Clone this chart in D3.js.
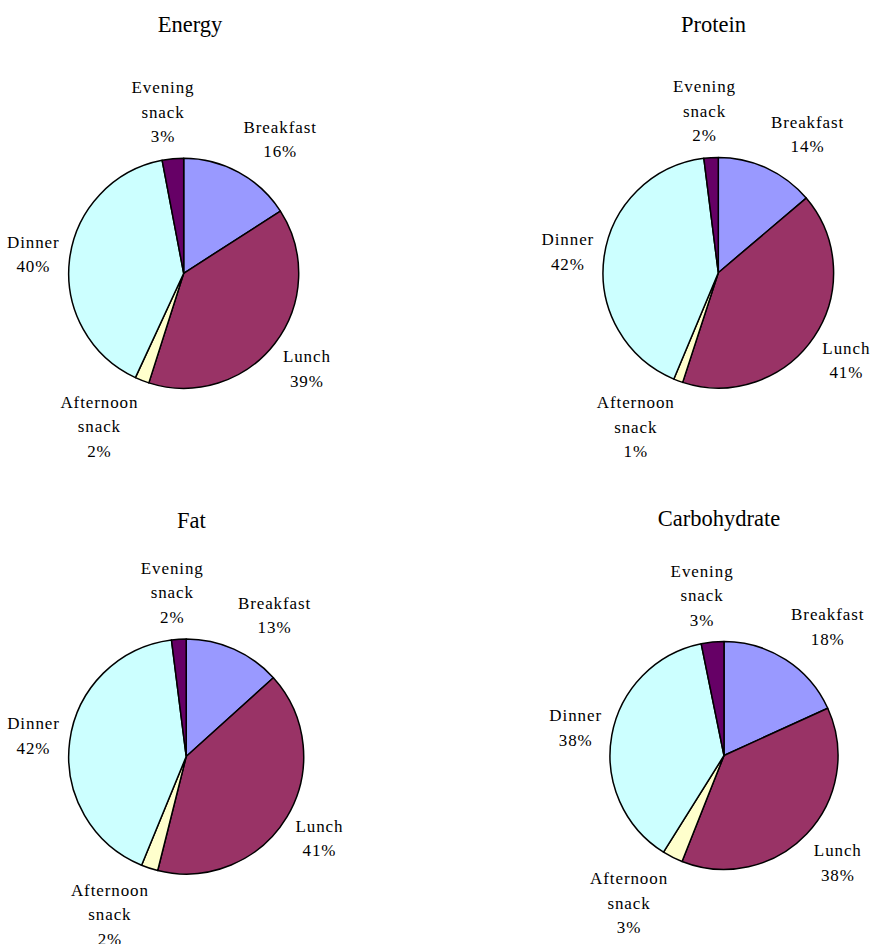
<!DOCTYPE html>
<html>
<head>
<meta charset="utf-8">
<script src="https://cdn.jsdelivr.net/npm/d3@7/dist/d3.min.js"></script>
<style>
  html, body { margin: 0; padding: 0; background: #fff; }
  svg { display: block; }
  text { font-family: "Liberation Serif", "Times New Roman", "DejaVu Serif", serif; fill: #000; }
</style>
</head>
<body>
<svg id="chart" width="870" height="944"></svg>
<script>
// ---- data ----
const categories = ["Breakfast", "Lunch", "Afternoon snack", "Dinner", "Evening snack"];
const categoryLines = [["Breakfast"], ["Lunch"], ["Afternoon", "snack"], ["Dinner"], ["Evening", "snack"]];
const panelTitles = ["Energy", "Protein", "Fat", "Carbohydrate"];
const energyValues  = [15.9, 39.0, 2.0, 40.1, 3.0];
const proteinValues = [13.8, 41.2, 1.3, 41.7, 2.0];
const fatValues     = [13.3, 40.6, 2.3, 41.8, 2.0];
const carbValues    = [18.2, 37.8, 2.9, 37.9, 3.2];
const seriesValues  = [energyValues, proteinValues, fatValues, carbValues];

// ---- style / layout ----
const colors = ["#9999FF", "#993366", "#FFFFCC", "#CCFFFF", "#660066"];
const layout = [
  { cx: 183.7, cy: 273.3, r: 115,   tx: 190,   ty: 31.7 },
  { cx: 718.3, cy: 272.7, r: 115.3, tx: 713.5, ty: 31.7 },
  { cx: 186.2, cy: 756.5, r: 117.5, tx: 191.5, ty: 528.3 },
  { cx: 724,   cy: 755.5, r: 114,   tx: 719,   ty: 526 }
];
const labelFont = 17, lineH = 24.5, firstBase = 18, gap = 10, kx = 3, ky = 1.3;

const svg = d3.select("#chart");
const color = d3.scaleOrdinal().domain(categories).range(colors);
const pie = d3.pie().sort(null).value(d => d.value).startAngle(0).endAngle(2 * Math.PI);

seriesValues.forEach((vals, pi) => {
  const L = layout[pi];
  const total = d3.sum(vals);
  const data = categories.map((c, i) => ({ cat: c, lines: categoryLines[i], value: vals[i] }));
  const arcs = pie(data);
  const arc = d3.arc().innerRadius(0).outerRadius(L.r);

  const g = svg.append("g");
  g.append("text")
    .attr("x", L.tx).attr("y", L.ty)
    .attr("text-anchor", "middle")
    .style("font-size", "22.5px")
    .text(panelTitles[pi]);

  const pg = g.append("g").attr("transform", `translate(${L.cx},${L.cy})`);
  pg.selectAll("path").data(arcs).join("path")
    .attr("d", arc)
    .attr("fill", d => color(d.data.cat))
    .attr("stroke", "#000")
    .attr("stroke-width", 1.5)
    .attr("stroke-linejoin", "round");

  arcs.forEach(a => {
    const lines = a.data.lines.concat([Math.round(a.data.value / total * 100) + "%"]);
    const mid = (a.startAngle + a.endAngle) / 2;
    const s = Math.sin(mid), c = Math.cos(mid);
    const px = L.cx + (L.r + gap) * s;
    const py = L.cy - (L.r + gap) * c;
    const t = g.append("text")
      .attr("text-anchor", "middle")
      .style("font-size", labelFont + "px")
      .style("letter-spacing", "0.9px");
    const spans = lines.map((ln, i) => t.append("tspan").attr("x", 0).attr("dy", i === 0 ? 0 : lineH).text(ln));
    let w = 0;
    spans.forEach(sp => { w = Math.max(w, sp.node().getComputedTextLength()); });
    const h = lines.length * lineH;
    const fx = Math.max(-1, Math.min(1, s * kx));
    const fy = Math.max(-1, Math.min(1, c * ky));
    const bx = px + fx * w / 2;
    const by = py - fy * h / 2;
    const top = by - h / 2;
    spans.forEach(sp => sp.attr("x", bx));
    t.attr("y", top + firstBase);
    spans[0].attr("y", top + firstBase);
  });
});
</script>
</body>
</html>
